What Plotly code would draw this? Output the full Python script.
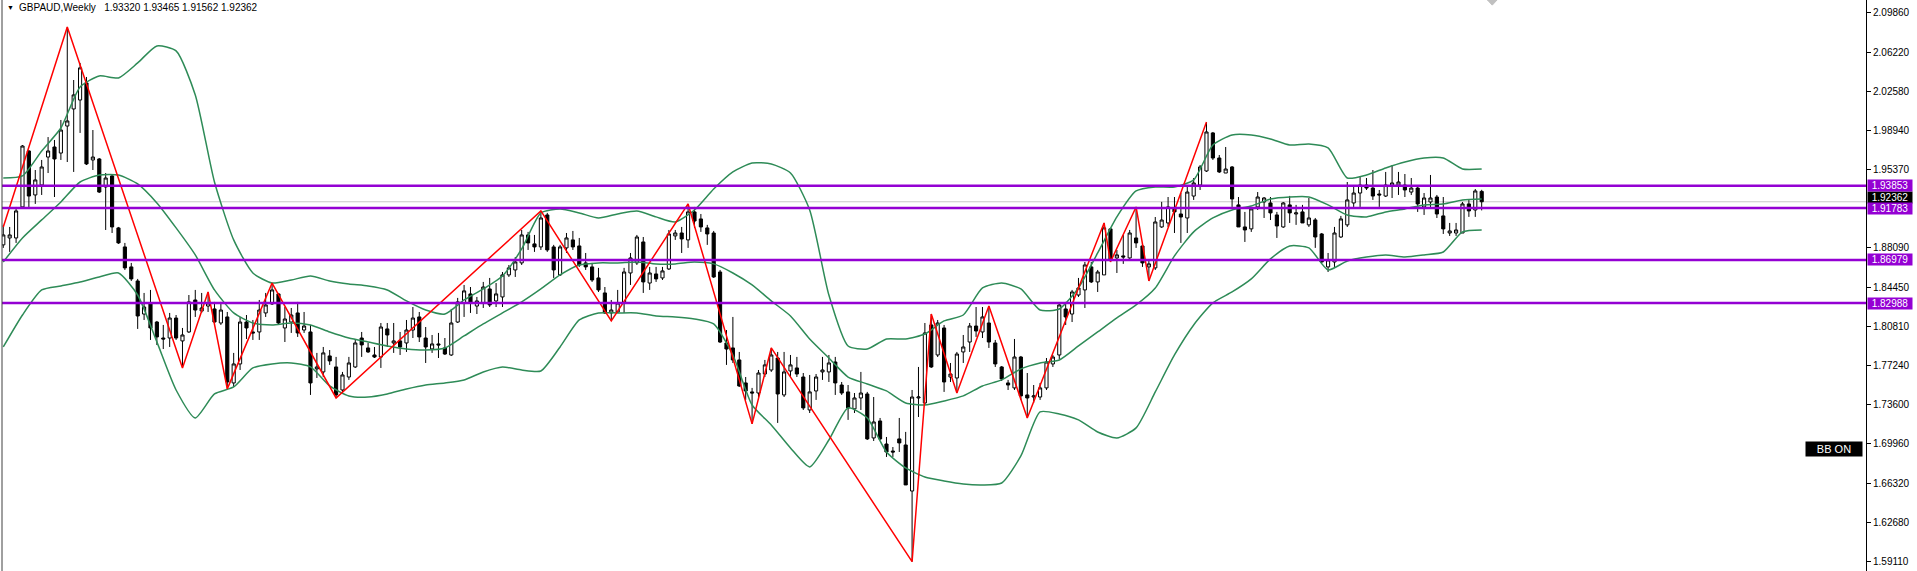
import plotly.graph_objects as go

# ---------------- data ----------------
opens = [1.8837,1.8901,1.8901,1.9188,1.9706,1.9299,1.9391,1.9650,1.9743,1.9687,
 1.9937,2.0095,2.0178,2.0336,1.9623,1.9632,1.9373,1.9475,1.8994,1.8818,
 1.8633,1.8503,1.8197,1.8290,1.8123,1.7975,1.7975,1.8160,1.7948,1.8031,
 1.8327,1.8225,1.8271,1.8244,1.8114,1.8170,1.7559,1.7735,1.8123,1.8031,
 1.8031,1.8207,1.8290,1.8383,1.8068,1.8123,1.8207,1.8049,1.8031,1.7689,
 1.7661,1.7809,1.7707,1.7494,1.7614,1.7707,1.7975,1.7883,1.7818,1.7799,
 1.8059,1.7929,1.7948,1.7929,1.8049,1.8170,1.7975,1.7874,1.7920,1.7883,
 1.7818,1.8123,1.8299,1.8383,1.8271,1.8299,1.8429,1.8318,1.8355,1.8559,
 1.8605,1.8670,1.8929,1.8846,1.8818,1.9114,1.8818,1.8559,1.8809,1.8883,
 1.8827,1.8670,1.8633,1.8531,1.8392,1.8207,1.8216,1.8299,1.8577,1.8670,
 1.8864,1.8484,1.8568,1.8531,1.8614,1.8920,1.8947,1.8883,1.9142,1.9077,
 1.8994,1.8947,1.8586,1.7929,1.7883,1.7772,1.7559,1.7476,1.7466,1.7642,
 1.7679,1.7790,1.7448,1.7670,1.7698,1.7614,1.7309,1.7485,1.7661,1.7661,
 1.7753,1.7540,1.7476,1.7319,1.7420,1.7457,1.7050,1.7207,1.6994,1.6929,
 1.7041,1.6985,1.6559,1.7420,1.7374,1.8096,1.7818,1.8068,1.7614,1.7605,
 1.7846,1.7938,1.8086,1.8031,1.8114,1.7929,1.7707,1.7559,1.7513,1.7799,
 1.7448,1.7429,1.7429,1.7513,1.7735,1.7818,1.8244,1.8197,1.8373,1.8420,
 1.8633,1.8494,1.8559,1.8985,1.8716,1.8735,1.8716,1.8901,1.8827,1.8633,
 1.8624,1.9003,1.9040,1.9179,1.9123,1.9086,1.9289,1.9391,1.9521,1.9873,
 1.9641,1.9502,1.9558,1.9207,1.9003,1.8985,1.9188,1.9234,1.9225,1.9114,
 1.9003,1.9207,1.9123,1.9142,1.9022,1.9068,1.8938,1.8633,1.8679,1.8910,
 1.9022,1.9225,1.9317,1.9391,1.9363,1.9308,1.9289,1.9382,1.9391,1.9391,
 1.9326,1.9363,1.9188,1.9234,1.9280,1.9105,1.8947,1.8947,1.8947,1.9216,
 1.9160,1.93320]
highs = [1.9022,1.9003,1.9188,1.9761,1.9715,1.9530,1.9623,1.9835,1.9808,1.9993,
 2.0854,2.0363,2.0521,2.0391,1.9900,1.9641,1.9502,1.9493,1.9003,1.8855,
 1.8670,1.8522,1.8392,1.8420,1.8133,1.8096,1.8207,1.8188,1.8068,1.8373,
 1.8420,1.8392,1.8401,1.8309,1.8309,1.8216,1.7837,1.8170,1.8188,1.8142,
 1.8327,1.8392,1.8484,1.8392,1.8262,1.8253,1.8309,1.8216,1.8096,1.7837,
 1.7892,1.7864,1.7800,1.7661,1.7800,1.7957,1.8031,1.7929,1.7892,1.8114,
 1.8114,1.8114,1.8031,1.8142,1.8262,1.8216,1.8077,1.8003,1.8022,1.7975,
 1.8244,1.8346,1.8466,1.8447,1.8355,1.8494,1.8531,1.8484,1.8586,1.8651,
 1.8725,1.8975,1.8957,1.8929,1.9151,1.9133,1.8837,1.8837,1.8947,1.8966,
 1.8901,1.8762,1.8670,1.8624,1.8447,1.8327,1.8420,1.8624,1.8762,1.8929,
 1.8910,1.8633,1.8633,1.8633,1.8975,1.8975,1.9003,1.9216,1.9188,1.9123,
 1.9022,1.8966,1.8605,1.8049,1.8170,1.7846,1.7614,1.7513,1.7679,1.7772,
 1.7883,1.7846,1.7846,1.7818,1.7800,1.7651,1.7633,1.7642,1.7800,1.7818,
 1.7800,1.7568,1.7540,1.7466,1.7661,1.7476,1.7429,1.7235,1.7059,1.6966,
 1.7235,1.7106,1.7494,1.7707,1.8114,1.8197,1.8142,1.8096,1.7744,1.7846,
 1.8003,1.8114,1.8262,1.8262,1.8271,1.7957,1.7716,1.7587,1.7966,1.7809,
 1.7651,1.7540,1.7559,1.7790,1.7818,1.8299,1.8309,1.8420,1.8531,1.8679,
 1.8679,1.8605,1.9040,1.8994,1.8790,1.8929,1.8975,1.9188,1.8855,1.8698,
 1.9095,1.9235,1.9280,1.9280,1.9317,1.9373,1.9456,1.9576,1.9974,1.9882,
 1.9669,1.9743,1.9567,1.9280,1.9142,1.9188,1.9326,1.9280,1.9280,1.9142,
 1.9234,1.9290,1.9207,1.9207,1.9271,1.9086,1.8947,1.8762,1.9003,1.9105,
 1.9419,1.9391,1.9474,1.9456,1.9530,1.9345,1.9512,1.9576,1.9512,1.9493,
 1.9456,1.9382,1.9317,1.9484,1.9299,1.9280,1.9040,1.9040,1.9234,1.9253,
 1.9354,1.93465]
lows = [1.8809,1.8772,1.8855,1.9179,1.9179,1.9216,1.9299,1.9502,1.9280,1.9623,
 1.9604,1.9512,1.9873,1.9576,1.9530,1.9317,1.8975,1.8947,1.8846,1.8605,
 1.8503,1.8059,1.8142,1.7957,1.7910,1.7873,1.7892,1.7957,1.7698,1.8022,
 1.8170,1.8207,1.8216,1.8114,1.8096,1.7504,1.7522,1.7679,1.7966,1.7957,
 1.7957,1.8170,1.8281,1.8096,1.7938,1.8022,1.7985,1.8022,1.7448,1.7605,
 1.7614,1.7726,1.7420,1.7466,1.7587,1.7698,1.7800,1.7837,1.7790,1.7698,
 1.7892,1.7837,1.7818,1.7846,1.7975,1.7938,1.7744,1.7837,1.7790,1.7818,
 1.7809,1.8114,1.8170,1.8207,1.8197,1.8253,1.8262,1.8262,1.8262,1.8540,
 1.8540,1.8651,1.8790,1.8772,1.8790,1.8772,1.8531,1.8549,1.8762,1.8790,
 1.8633,1.8605,1.8494,1.8401,1.8197,1.8133,1.8207,1.8207,1.8466,1.8651,
 1.8392,1.8420,1.8494,1.8512,1.8605,1.8883,1.8762,1.8809,1.8994,1.8957,
 1.8837,1.8531,1.7929,1.7726,1.7744,1.7522,1.7402,1.7180,1.7402,1.7614,
 1.7661,1.7189,1.7429,1.7614,1.7614,1.7309,1.7281,1.7402,1.7587,1.7568,
 1.7448,1.7448,1.7217,1.7281,1.7309,1.7031,1.7022,1.7031,1.6874,1.6874,
 1.6920,1.6615,1.5905,1.7244,1.7355,1.7698,1.7799,1.7476,1.7568,1.7466,
 1.7744,1.7846,1.7985,1.7975,1.7883,1.7707,1.7577,1.7494,1.7494,1.7402,
 1.7235,1.7374,1.7402,1.7494,1.7707,1.7781,1.8096,1.8123,1.8355,1.8253,
 1.8484,1.8401,1.8559,1.8679,1.8577,1.8661,1.8707,1.8809,1.8633,1.8503,
 1.8605,1.8994,1.9003,1.8947,1.8855,1.8947,1.9253,1.9345,1.9512,1.9623,
 1.9502,1.9502,1.9188,1.9003,1.8864,1.8957,1.9160,1.9086,1.9067,1.8901,
 1.8994,1.9040,1.9022,1.9040,1.9003,1.8809,1.8670,1.8586,1.8633,1.8901,
 1.9003,1.9188,1.9188,1.9345,1.9253,1.9188,1.9280,1.9271,1.9299,1.9280,
 1.9299,1.9142,1.9114,1.9188,1.9086,1.8938,1.8920,1.8920,1.8947,1.9096,
 1.9096,1.91562]
closes = [1.8929,1.8929,1.9151,1.9752,1.9289,1.9438,1.9558,1.9706,1.9632,1.9900,
 1.9984,2.0225,2.0475,1.9586,1.9650,1.9326,1.9456,1.9003,1.8855,1.8624,
 1.8522,1.8179,1.8262,1.8068,1.7985,1.7966,1.8160,1.7975,1.8003,1.8309,
 1.8234,1.8253,1.8299,1.8123,1.8234,1.7568,1.7735,1.8123,1.8068,1.8022,
 1.8234,1.8281,1.8420,1.8114,1.8151,1.8188,1.8022,1.8086,1.7559,1.7707,
 1.7837,1.7763,1.7448,1.7633,1.7744,1.7929,1.7911,1.7846,1.7799,1.8077,
 1.8003,1.7948,1.7892,1.8049,1.8160,1.7985,1.7892,1.7920,1.7911,1.7827,
 1.8114,1.8309,1.8411,1.8299,1.8318,1.8447,1.8281,1.8383,1.8559,1.8624,
 1.8679,1.8929,1.8855,1.8818,1.9086,1.8790,1.8605,1.8818,1.8901,1.8818,
 1.8651,1.8633,1.8512,1.8420,1.8207,1.8234,1.8299,1.8586,1.8716,1.8910,
 1.8494,1.8577,1.8522,1.8596,1.8938,1.8947,1.8892,1.9142,1.9058,1.9003,
 1.8938,1.8540,1.7938,1.7873,1.7772,1.7531,1.7485,1.7466,1.7651,1.7726,
 1.7818,1.7457,1.7661,1.7726,1.7642,1.7328,1.7476,1.7614,1.7679,1.7744,
 1.7559,1.7466,1.7328,1.7420,1.7466,1.7041,1.7198,1.7041,1.6920,1.6920,
 1.7004,1.6615,1.7429,1.7429,1.8022,1.7707,1.8114,1.7568,1.7642,1.7827,
 1.7892,1.8086,1.8040,1.8170,1.7938,1.7735,1.7596,1.7540,1.7799,1.7439,
 1.7420,1.7439,1.7513,1.7753,1.7799,1.8281,1.8170,1.8401,1.8438,1.8651,
 1.8494,1.8586,1.8994,1.8698,1.8744,1.8725,1.8947,1.8855,1.8670,1.8661,
 1.9049,1.9067,1.9188,1.9142,1.9095,1.9326,1.9410,1.9558,1.9882,1.9641,
 1.9512,1.9539,1.9262,1.9003,1.8975,1.9170,1.9280,1.9271,1.9133,1.9012,
 1.9225,1.9133,1.9133,1.9040,1.9086,1.8910,1.8679,1.8698,1.8947,1.9077,
 1.9253,1.9317,1.9391,1.9363,1.9289,1.9299,1.9391,1.9410,1.9419,1.9345,
 1.9363,1.9216,1.9271,1.9271,1.9123,1.8985,1.8966,1.8975,1.9216,1.9151,
 1.9336,1.92362]

# ZigZag pivots: bar index and price
zz_idx = [0, 10, 28, 32, 35, 42, 52, 84, 95, 107, 117, 120, 142, 145, 149, 154, 160, 172, 173, 177, 179, 188]
zz_price = [1.9003, 2.0854, 1.7698, 1.8401, 1.7504, 1.8484, 1.7420, 1.9151, 1.8133, 1.9216, 1.7180, 1.7883,
            1.5905, 1.8197, 1.7466, 1.8271, 1.7235, 1.9040, 1.8679, 1.9188, 1.8503, 1.9974]

# Bollinger bands read every 3rd bar
bb_idx = list(range(0, 229, 3)) + [231]
bb_upper = [1.9456,1.9475,1.9706,1.9919,2.0299,2.0401,2.0382,2.0521,2.0678,2.0632,
 2.0225,1.9419,1.8883,1.8577,1.8484,1.8512,1.8549,1.8503,1.8475,1.8457,
 1.8420,1.8318,1.8234,1.8197,1.8327,1.8429,1.8549,1.8799,1.9133,1.9170,
 1.9133,1.9086,1.9123,1.9151,1.9096,1.9049,1.9160,1.9354,1.9512,1.9595,
 1.9586,1.9502,1.9160,1.8373,1.7901,1.7874,1.7966,1.7966,1.8012,1.8133,
 1.8188,1.8438,1.8484,1.8429,1.8234,1.8244,1.8438,1.8762,1.9096,1.9336,
 1.9373,1.9373,1.9438,1.9761,1.9854,1.9854,1.9817,1.9761,1.9771,1.9734,
 1.9456,1.9484,1.9549,1.9604,1.9641,1.9641,1.9540,1.9540]
bb_mid = [1.8679,1.8901,1.9068,1.9234,1.9419,1.9484,1.9484,1.9401,1.9225,1.8994,
 1.8744,1.8420,1.8207,1.8114,1.8096,1.8114,1.8096,1.8031,1.7976,1.7939,
 1.7902,1.7874,1.7864,1.7883,1.7994,1.8105,1.8207,1.8309,1.8429,1.8559,
 1.8651,1.8670,1.8670,1.8679,1.8661,1.8661,1.8679,1.8661,1.8577,1.8466,
 1.8318,1.8179,1.7966,1.7790,1.7614,1.7550,1.7485,1.7374,1.7355,1.7392,
 1.7439,1.7531,1.7587,1.7689,1.7744,1.7772,1.7902,1.8031,1.8161,1.8281,
 1.8438,1.8735,1.8957,1.9086,1.9160,1.9197,1.9262,1.9281,1.9281,1.9207,
 1.9114,1.9096,1.9142,1.9170,1.9207,1.9216,1.9253,1.9262]
bb_lower = [1.7892,1.8188,1.8420,1.8457,1.8494,1.8540,1.8577,1.8373,1.7939,1.7494,
 1.7235,1.7457,1.7522,1.7698,1.7735,1.7744,1.7707,1.7531,1.7439,1.7429,
 1.7457,1.7503,1.7540,1.7559,1.7587,1.7661,1.7707,1.7679,1.7670,1.7892,
 1.8142,1.8207,1.8207,1.8207,1.8179,1.8170,1.8151,1.8105,1.7818,1.7355,
 1.7170,1.6957,1.6782,1.7031,1.7328,1.7235,1.6920,1.6772,1.6689,1.6652,
 1.6624,1.6615,1.6633,1.6883,1.7291,1.7272,1.7217,1.7105,1.7050,1.7143,
 1.7476,1.7818,1.8096,1.8300,1.8401,1.8522,1.8707,1.8827,1.8809,1.8605,
 1.8688,1.8725,1.8744,1.8725,1.8744,1.8771,1.8957,1.8975]

levels = [1.93853, 1.91783, 1.86979, 1.82988]
last_price = 1.92362
tick_vals = [2.09860, 2.06220, 2.02580, 1.98940, 1.95370, 1.88090, 1.84450, 1.80810,
             1.77240, 1.73600, 1.69960, 1.66320, 1.62680, 1.59110]
title_text = "GBPAUD,Weekly\u00a0\u00a0 1.93320 1.93465 1.91562 1.92362"

bars = list(range(len(opens)))

# ---------------- styling ----------------
FONT = "Liberation Sans, Arial, sans-serif"
PURPLE = "#9400D3"
GREEN = "#2E8B57"

fig = go.Figure()

for band in (bb_upper, bb_mid, bb_lower):
    fig.add_trace(go.Scatter(x=bb_idx, y=band, mode="lines",
                             line=dict(color=GREEN, width=1.5, shape="spline", smoothing=0.6),
                             hoverinfo="skip", showlegend=False))

fig.add_trace(go.Candlestick(
    x=bars, open=opens, high=highs, low=lows, close=closes,
    increasing=dict(line=dict(color="black", width=1), fillcolor="white"),
    decreasing=dict(line=dict(color="black", width=1), fillcolor="black"),
    whiskerwidth=0, showlegend=False))

fig.add_trace(go.Scatter(x=zz_idx, y=zz_price, mode="lines",
                         line=dict(color="#FF0000", width=1.5),
                         hoverinfo="skip", showlegend=False))

shapes = []
# current price line
shapes.append(dict(type="line", xref="paper", x0=0, x1=1, yref="y", y0=last_price, y1=last_price,
                   line=dict(color="#C8C8C8", width=1), layer="below"))
for lv in levels:
    shapes.append(dict(type="line", xref="paper", x0=0, x1=1, yref="y", y0=lv, y1=lv,
                       line=dict(color=PURPLE, width=2.5), layer="above"))
# left border
shapes.append(dict(type="line", xref="paper", x0=0, x1=0, yref="paper", y0=0, y1=1,
                   line=dict(color="#404040", width=1)))
# chart-shift marker at top
shapes.append(dict(type="path", xref="x", yref="paper",
                   path="M 231.9 1 L 233.4 1 L 232.65 0.991 Z",
                   fillcolor="#C0C0C0", line=dict(color="#C0C0C0", width=1)))

annotations = []
annotations.append(dict(xref="paper", yref="paper", x=0, y=1, xanchor="left", yanchor="top",
                        xshift=3, yshift=-2, text="\u25BC", showarrow=False,
                        font=dict(family=FONT, size=7, color="black")))
annotations.append(dict(xref="paper", yref="paper", x=0, y=1, xanchor="left", yanchor="top",
                        xshift=15, yshift=0, text=title_text, showarrow=False,
                        font=dict(family=FONT, size=10, color="black")))
# current price label (sits just above the 1.91783 label)
annotations.append(dict(xref="paper", yref="y", x=1, y=last_price, xanchor="left", yanchor="middle",
                        xshift=1, yshift=4, text=f"{last_price:.5f}", showarrow=False, bgcolor="black",
                        width=42, height=9, borderpad=1,
                        font=dict(family=FONT, size=10, color="white")))
for lv in levels:
    annotations.append(dict(xref="paper", yref="y", x=1, y=lv, xanchor="left", yanchor="middle",
                            xshift=1, text=f"{lv:.5f}", showarrow=False, bgcolor=PURPLE,
                            width=42, height=9, borderpad=1,
                            font=dict(family=FONT, size=10, color="white")))
# BB ON button
annotations.append(dict(xref="paper", yref="paper", x=(1834 - 2) / 1864, y=1 - 449 / 571,
                        xanchor="center", yanchor="middle", text="BB ON", showarrow=False,
                        bgcolor="black", width=54, height=12, borderpad=1,
                        font=dict(family=FONT, size=11, color="white")))

fig.update_layout(
    width=1917, height=571,
    margin=dict(l=2, r=51, t=0, b=0, pad=0),
    paper_bgcolor="white", plot_bgcolor="white",
    showlegend=False,
    shapes=shapes, annotations=annotations,
    font=dict(family=FONT, size=10, color="black"),
    xaxis=dict(range=[-0.2, 291.05], showgrid=False, zeroline=False, showticklabels=False,
               ticks="", showline=False, rangeslider=dict(visible=False), fixedrange=True),
    yaxis=dict(range=[1.58185, 2.11035], side="right", showgrid=False, zeroline=False,
               tickvals=tick_vals, ticktext=[f"{v:.5f}" for v in tick_vals],
               ticks="outside", ticklen=4, tickcolor="black", tickwidth=1,
               showline=True, linecolor="black", linewidth=1,
               tickfont=dict(family=FONT, size=10, color="black"), fixedrange=True),
)

fig.write_html("out.html", config={"displayModeBar": False, "responsive": False},
               post_script="document.body.style.margin='0';")
